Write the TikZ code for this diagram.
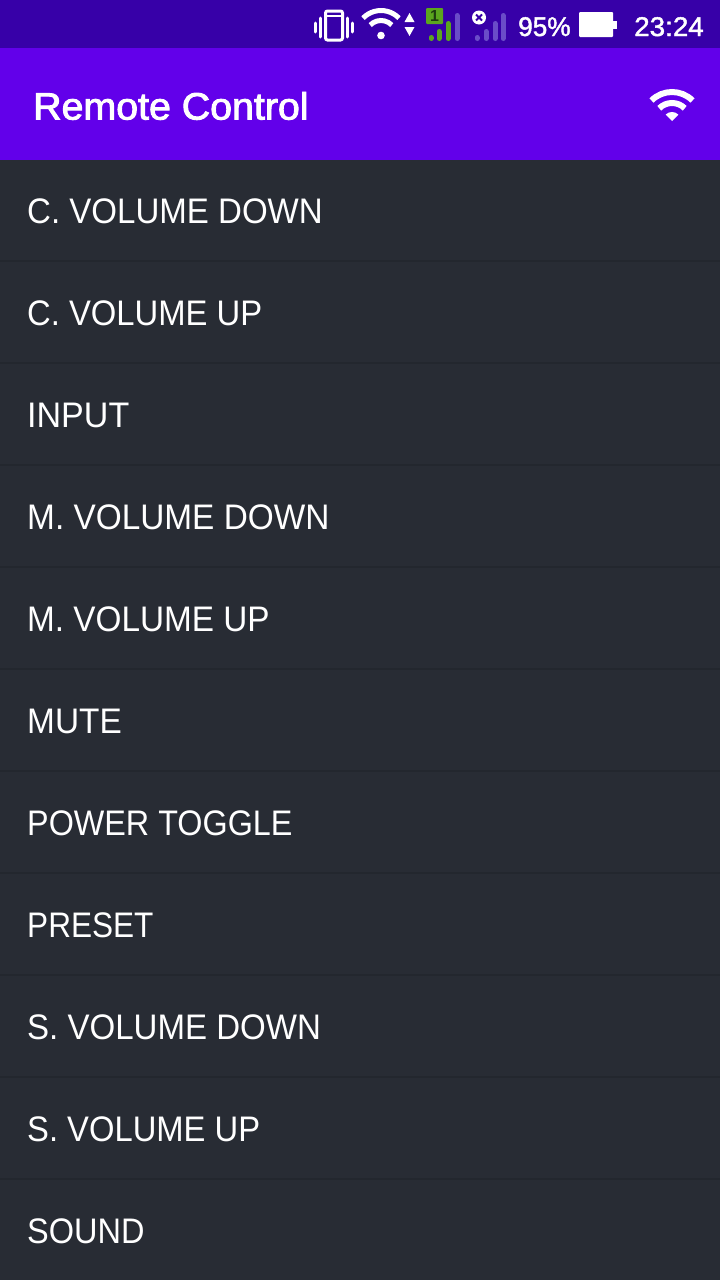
\documentclass[tikz,border=0pt]{standalone}
\usepackage{graphicx}
\usepackage{fontspec}
\setmainfont{Liberation Sans}
\newfontfamily\rowf[FakeStretch=0.931]{Liberation Sans}
\newfontfamily\titlef[FakeBold=2.4,FakeStretch=1.035]{Liberation Sans}
\newfontfamily\statf[FakeBold=1.6,FakeStretch=0.97]{Liberation Sans}
\newfontfamily\clockf[FakeBold=1.6,FakeStretch=1.03]{Liberation Sans}
\newcommand{\fitw}[2]{\scalebox{#1}[1]{#2}}
\definecolor{listbg}{HTML}{282C34}
\definecolor{sepc}{HTML}{23272E}
\definecolor{barbg}{HTML}{6200EA}
\definecolor{statbg}{HTML}{3700A8}
\definecolor{simg}{HTML}{5BA61E}
\definecolor{dimbar}{HTML}{6A4CC8}
\definecolor{simtxt}{HTML}{1F3A10}
\tikzset{
  rowlabel/.style={anchor=base west,inner sep=0pt,text=white,font=\rowf\fontsize{35.5}{40}\selectfont},
  titlelabel/.style={anchor=base west,inner sep=0pt,text=white,font=\titlef\fontsize{38}{42}\selectfont},
  statlabel/.style={anchor=base west,inner sep=0pt,text=white,font=\statf\fontsize{27}{32}\selectfont},
  clocklabel/.style={anchor=base west,inner sep=0pt,text=white,font=\clockf\fontsize{27}{32}\selectfont},
  sepline/.style={draw=sepc,line width=1.5pt},
  wave/.style={draw=white,line width=#1,line cap=butt},
  sigbar/.style={line width=5pt,line cap=round},
  vibbar/.style={draw=white,line width=3pt,line cap=round}
}
\begin{document}
\begin{tikzpicture}[x=1pt,y=-1pt]
\useasboundingbox (0,0) rectangle (720,1280);
\fill[listbg] (0,160) rectangle (720,1280);
\fill[statbg] (0,0) rectangle (720,48);
\fill[barbg] (0,48) rectangle (720,160);
% separators
\foreach \yy in {261,363,465,567,669,771,873,975,1077,1179}
  \draw[sepline] (0,\yy) -- (720,\yy);
% list
\node[rowlabel] (r1) at (27,223.5) {C. VOLUME DOWN};
\node[rowlabel] (r2) at (27,325.5) {\fitw{0.992}{C. VOLUME UP}};
\node[rowlabel] (r3) at (27,427.5) {\fitw{1.03}{INPUT}};
\node[rowlabel] (r4) at (27,529.5) {\fitw{1.01}{M. VOLUME DOWN}};
\node[rowlabel] (r5) at (27,631.5) {\fitw{1.008}{M. VOLUME UP}};
\node[rowlabel] (r6) at (27,733.5) {\fitw{1.01}{MUTE}};
\node[rowlabel] (r7) at (27,835.5) {\fitw{0.978}{POWER TOGGLE}};
\node[rowlabel] (r8) at (27,937.5) {\fitw{0.955}{PRESET}};
\node[rowlabel] (r9) at (27,1039.5) {S. VOLUME DOWN};
\node[rowlabel] (r10) at (27,1141.5) {\fitw{0.991}{S. VOLUME UP}};
\node[rowlabel] (r11) at (27,1243.5) {\fitw{0.983}{SOUND}};
% title
\node[titlelabel] (title) at (33,119.5) {Remote Control};
% app bar wifi
\begin{scope}[shift={(672,121)}]
  \draw[wave=6pt] (225:29) arc[start angle=225,end angle=315,radius=29];
  \draw[wave=6pt] (225:18) arc[start angle=225,end angle=315,radius=18];
  \fill[white] (0,0) -- (225:9) arc[start angle=225,end angle=315,radius=9] -- cycle;
\end{scope}
% vibrate icon
\draw[white,line width=3pt,rounded corners=2pt] (325.5,11) rectangle (342.5,40);
\draw[white,line width=2.5pt] (325.5,16) -- (342.5,16);
\draw[vibbar] (315,23) -- (315,32);
\draw[vibbar] (320,18) -- (320,37);
\draw[vibbar] (347,18) -- (347,37);
\draw[vibbar] (352,23) -- (352,32);
% status wifi
\begin{scope}[shift={(381,35.5)}]
  \draw[wave=5pt] (224:25) arc[start angle=224,end angle=316,radius=25];
  \draw[wave=5pt] (224:15) arc[start angle=224,end angle=316,radius=15];
  \fill[white] (0,0) circle[radius=3.8];
\end{scope}
\fill[white] (409.5,13) -- (414.5,22) -- (404.5,22) -- cycle;
\fill[white] (409.5,36) -- (414.5,27) -- (404.5,27) -- cycle;
% SIM 1
\fill[simg,rounded corners=1pt] (426,8) rectangle (443,24);
\node[anchor=center,inner sep=0pt,text=simtxt,font=\bfseries\fontsize{16}{16}\selectfont] (simnum) at (434.5,16) {1};
\draw[sigbar,simg] (431,37.5) -- (431,38.5);
\draw[sigbar,simg] (439,31.5) -- (439,38.5);
\draw[sigbar,simg] (448,23.5) -- (448,38.5);
\draw[sigbar,dimbar] (457,15.5) -- (457,38.5);
% SIM 2
\fill[white] (479,17.5) circle[radius=7];
\draw[statbg,line width=2pt] (476,14.5) -- (482,20.5) (482,14.5) -- (476,20.5);
\draw[sigbar,dimbar] (477,37.5) -- (477,38.5);
\draw[sigbar,dimbar] (486,31.5) -- (486,38.5);
\draw[sigbar,dimbar] (495,23.5) -- (495,38.5);
\draw[sigbar,dimbar] (503,15.5) -- (503,38.5);
% status text
\node[statlabel] (pct) at (518,36) {95\%};
\fill[white,rounded corners=1pt] (579,12) rectangle (613,37);
\fill[white] (612,21) rectangle (617,29);
\node[clocklabel] (clock) at (634,36) {23:24};
\end{tikzpicture}
\end{document}
